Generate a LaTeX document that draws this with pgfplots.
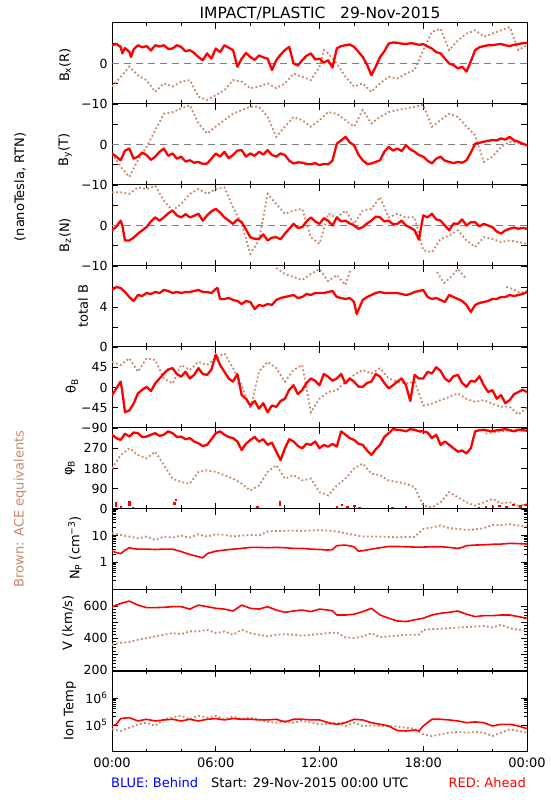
\documentclass[border=0pt]{standalone}
\usepackage{fontspec}
\setmainfont{DejaVu Sans}
\usepackage{pgfplots}
\pgfplotsset{compat=1.18}
\definecolor{acebrown}{RGB}{200,135,105}
\definecolor{aheadred}{RGB}{255,0,0}
\definecolor{behindblue}{RGB}{0,0,255}
\definecolor{zerogray}{RGB}{128,128,128}
\newcommand\fa{\fontsize{12.5}{14}\selectfont}
\newcommand\fb{\fontsize{13}{15}\selectfont}
\newcommand\ft{\fontsize{15.5}{18}\selectfont}
\pgfplotsset{
  panel/.style={scale only axis, width=415pt, height=81pt, xmin=0, xmax=24,
    anchor=north west,
    xtick={0,6,12,18,24}, minor xtick={2,4,8,10,14,16,20,22}, xticklabels={},
    tick align=inside, major tick length=6pt, minor tick length=3.5pt,
    axis line style={line width=1pt},
    every tick/.append style={line width=0.9pt, black},
    yticklabel style={font=\fa, xshift=-1pt},
    clip=true},
  redl/.style={color=aheadred, line width=2.3pt, line join=round, mark=none},
  redthin/.style={color=aheadred, line width=1.6pt, line join=round, mark=none},
  brownd/.style={color=acebrown, line width=1.8pt, dash pattern=on 1.8pt off 2.4pt, mark=none},
  zline/.style={color=zerogray, line width=1pt, dash pattern=on 7pt off 5pt},
  bpanel/.style={panel, ymin=-10, ymax=10, ytick={-10,-5,0,5}, yticklabels={−10,,0,}},
}
\begin{document}
\begin{tikzpicture}
\useasboundingbox (0,0) rectangle (550pt,800pt);
% ---------------- Bx
\begin{axis}[bpanel, at={(112pt,777pt)}]
\addplot[zline] coordinates {(0,0) (24,0)};
\addplot[brownd] coordinates {(0,-5.7)(0.5,-3.3)(1,-0.8)(1.5,-2.9)(2,-4.1)(2.5,-7.0)(3,-4.9)(3.5,-5.7)(4,-4.5)(4.5,-4.1)(5,-8.2)(5.5,-9.0)(6,-7.8)(6.5,-6.6)(7,-4.1)(7.5,-4.5)(8,-6.1)(8.5,-5.7)(9,-4.9)(9.5,-6.1)(10,-4.9)(10.5,-2.5)(11,-3.3)(11.5,-4.1)(12,-0.8)(12.25,3.3)(12.5,2.5)(13,0)(13.5,-3.3)(14,-5.7)(14.5,-4.9)(15,-7.0)(15.5,-4.9)(16,-3.3)(16.5,-3.7)(17,-2.5)(17.5,-1.6)(18,3.3)(18.5,7.8)(19,8.6)(19.5,3.3)(20,5.7)(20.5,7.4)(21,8.2)(21.5,6.6)(22,7.4)(22.5,8.2)(23,9.0)(23.5,3.3)(24,4.5)};
\addplot[redl] coordinates {(0,4.5)(0.25,4.8)(0.5,4.1)(0.6,2.5)(0.75,3.8)(1,2.9)(1.1,1.6)(1.25,3.5)(1.5,4.5)(1.75,4.0)(2,4.3)(2.25,3.2)(2.5,4.5)(2.75,4.2)(3,4.5)(3.25,3.6)(3.5,3.7)(3.75,4.5)(4,4.1)(4.25,3.0)(4.5,3.3)(4.75,2.6)(5,1.6)(5.25,0.8)(5.5,2.5)(5.75,1.2)(6,3.7)(6.25,2.8)(6.5,4.5)(6.75,3.9)(7,3.3)(7.25,-0.8)(7.5,1.2)(7.75,2.6)(8,1.6)(8.25,0.9)(8.5,2.0)(8.75,1.5)(9,1.2)(9.25,-1.6)(9.5,0.8)(9.75,2.2)(10,3.3)(10.25,4.1)(10.5,0)(10.75,-0.5)(11,0.8)(11.25,1.9)(11.5,2.5)(11.75,1.0)(12,1.2)(12.25,0.2)(12.5,0.8)(12.75,-1.0)(13,3.7)(13.25,4.3)(13.5,4.5)(13.75,4.7)(14,4.1)(14.25,2.9)(14.5,1.6)(14.75,-0.3)(15,-2.9)(15.25,-0.8)(15.5,1.6)(15.75,3.0)(16,4.9)(16.25,5.2)(16.5,5.1)(16.75,4.9)(17,4.8)(17.25,5.0)(17.5,4.9)(17.75,4.6)(18,4.8)(18.25,4.2)(18.5,3.7)(18.75,2.8)(19,2.5)(19.25,1.2)(19.5,0)(19.75,-0.4)(20,-1.2)(20.25,-0.8)(20.5,-2.0)(20.75,0.5)(21,3.3)(21.25,4.0)(21.5,4.3)(21.75,4.5)(22,4.5)(22.25,4.7)(22.5,4.8)(22.75,4.5)(23,4.3)(23.25,4.6)(23.5,4.8)(23.75,5.0)(24,5.1)};
\end{axis}
% ---------------- By
\begin{axis}[bpanel, at={(112pt,696pt)}]
\addplot[zline] coordinates {(0,0) (24,0)};
\addplot[brownd] coordinates {(0,-2.2)(0.5,-5.5)(1,-8.0)(1.5,-3.9)(2,-0.6)(2.5,3.5)(3,7.6)(3.5,8.0)(4,8.9)(4.5,9.7)(5,5.2)(5.5,2.7)(6,4.4)(6.5,6.0)(7,7.6)(7.5,8.5)(8,9.3)(8.5,9.3)(9,6.8)(9.5,1.9)(10,4.4)(10.5,6.8)(11,6.0)(11.5,4.4)(12,6.0)(12.5,8.0)(13,7.6)(13.5,6.0)(14,4.4)(14.5,8.5)(15,5.2)(15.5,6.8)(16,8.0)(16.5,8.5)(17,8.9)(17.5,9.3)(18,9.8)(18.5,4.4)(19,6.0)(19.5,7.6)(20,6.8)(20.5,4.4)(21,2.3)(21.5,-4.3)(22,-3.0)(22.5,-0.6)(23,0.7)(23.5,0.3)(24,-0.2)};
\addplot[redl] coordinates {(0,-2.2)(0.25,-3.0)(0.5,-3.9)(0.75,-1.5)(1,-1.0)(1.25,-3.5)(1.5,-3.0)(1.75,-2.0)(2,-2.6)(2.25,-3.8)(2.5,-3.0)(2.75,-1.8)(3,-1.0)(3.25,-2.8)(3.5,-2.2)(3.75,-3.5)(4,-3.0)(4.25,-4.2)(4.5,-3.9)(4.75,-4.5)(5,-4.3)(5.25,-4.8)(5.5,-4.7)(5.75,-3.5)(6,-2.2)(6.25,-3.0)(6.5,-1.8)(6.75,-3.4)(7,-2.6)(7.25,-1.5)(7.5,-1.4)(7.75,-3.0)(8,-2.2)(8.25,-2.8)(8.5,-1.8)(8.75,-2.5)(9,-1.4)(9.25,-2.6)(9.5,-3.0)(9.75,-2.2)(10,-2.6)(10.25,-4.0)(10.5,-4.7)(10.75,-4.4)(11,-4.5)(11.25,-4.8)(11.5,-4.9)(11.75,-4.6)(12,-5.1)(12.25,-4.8)(12.5,-4.9)(12.75,-4.0)(13,0.2)(13.25,1.0)(13.5,1.9)(13.75,0.5)(14,-0.2)(14.25,-2.5)(14.5,-3.9)(14.75,-4.8)(15,-4.7)(15.25,-4.3)(15.5,-3.9)(15.75,-1.8)(16,-0.6)(16.25,-1.5)(16.5,-1.0)(16.75,-1.6)(17,-0.2)(17.25,-1.2)(17.5,-1.8)(17.75,-2.6)(18,-3.0)(18.25,-4.0)(18.5,-4.7)(18.75,-3.5)(19,-3.0)(19.25,-4.0)(19.5,-4.3)(19.75,-4.6)(20,-4.3)(20.25,-4.5)(20.5,-3.9)(20.75,-2.0)(21,0.2)(21.25,0.4)(21.5,0.7)(21.75,0.9)(22,1.1)(22.25,1.0)(22.5,1.5)(22.75,1.2)(23,1.9)(23.25,1.0)(23.5,0.7)(23.75,0.2)(24,-0.2)};
\end{axis}
% ---------------- Bz
\begin{axis}[bpanel, at={(112pt,615pt)}]
\addplot[zline] coordinates {(0,0) (24,0)};
\addplot[brownd] coordinates {(0,8.2)(0.5,8.2)(1,7.8)(1.5,9.4)(2,9.0)(2.5,9.8)(3,6.1)(3.5,3.7)(4,5.3)(4.5,7.8)(5,9.0)(5.5,7.8)(6,9.0)(6.5,9.4)(7,4.5)(7.5,0.4)(8,-7.0)(8.5,-3.7)(9,7.8)(9.5,5.3)(10,2.9)(10.5,3.7)(11,4.1)(11.5,-2.9)(12,-4.5)(12.5,2.9)(13,2.0)(13.5,3.7)(14,0.4)(14.5,3.7)(15,4.1)(15.5,7.0)(16,2.0)(16.5,2.9)(17,2.0)(17.5,2.0)(18,-6.1)(18.5,-6.6)(19,-3.3)(19.5,-2.5)(20,-1.2)(20.5,-3.7)(21,-5.3)(21.5,-2.9)(22,-3.3)(22.5,-4.1)(23,-3.7)(23.5,-4.1)(24,-4.5)};
\addplot[redl] coordinates {(0,-1.2)(0.25,-0.3)(0.5,1.2)(0.6,0.0)(0.75,-3.7)(1,-3.7)(1.25,-3.0)(1.5,-2.0)(1.75,-1.2)(2,-0.4)(2.25,1.0)(2.5,2.0)(2.75,1.2)(3,2.0)(3.25,3.0)(3.5,3.7)(3.75,2.5)(4,2.0)(4.25,2.8)(4.5,2.0)(4.75,2.4)(5,2.9)(5.25,1.2)(5.5,2.5)(5.75,3.5)(6,4.1)(6.25,3.2)(6.5,2.0)(6.75,1.2)(7,0.4)(7.25,1.5)(7.5,0.8)(7.75,-1.0)(8,-2.9)(8.25,-3.3)(8.5,-3.3)(8.75,-2.2)(9,-3.7)(9.25,-3.0)(9.5,-2.9)(9.75,-3.4)(10,-2.0)(10.25,-0.8)(10.5,0.4)(10.75,-0.6)(11,-0.4)(11.25,1.0)(11.5,2.0)(11.75,1.0)(12,0.4)(12.25,1.8)(12.5,1.2)(12.75,0.0)(13,2.0)(13.25,1.0)(13.5,1.2)(13.75,0.5)(14,0)(14.25,-0.8)(14.5,-0.4)(14.75,0.5)(15,1.2)(15.25,2.2)(15.5,2.0)(15.75,1.0)(16,1.2)(16.25,0.3)(16.5,0.4)(16.75,1.2)(17,0)(17.25,-0.5)(17.5,-1.2)(17.75,-3.5)(18,2.5)(18.25,2.0)(18.5,2.9)(18.75,1.5)(19,1.2)(19.25,0.0)(19.5,-1.2)(19.75,0.5)(20,0.4)(20.25,1.5)(20.5,0)(20.75,0.8)(21,0.8)(21.25,-0.2)(21.5,0.4)(21.75,0.0)(22,-0.4)(22.25,-1.5)(22.5,-2.0)(22.75,-1.2)(23,-0.8)(23.25,-0.5)(23.5,-0.8)(23.75,-0.6)(24,-0.8)};
\end{axis}
% ---------------- total B
\begin{axis}[panel, at={(112pt,534pt)}, ymin=0, ymax=8.1, ytick={0,2,4,6}, yticklabels={0,,4,}]
\addplot[brownd] coordinates {(9.5,7.9)(10,7.3)(10.5,7.0)(11,6.7)(11.5,7.3)(12,7.8)(12.5,6.6)(13,7.2)(13.5,6.2)(13.8,7.8)};
\addplot[brownd] coordinates {(18.8,7.5)(19.2,6.4)(19.6,7.0)(20,7.8)(20.5,6.8)};
\addplot[brownd] coordinates {(22.8,6.0)(23.2,5.8)(23.6,5.4)(24,5.6)};
\addplot[redl] coordinates {(0,5.7)(0.25,6.0)(0.5,5.9)(0.75,5.5)(1,5.0)(1.25,4.6)(1.5,5.2)(1.75,5.1)(2,5.4)(2.25,5.3)(2.5,5.5)(2.75,5.4)(3,5.7)(3.25,5.6)(3.5,5.4)(3.75,5.5)(4,5.4)(4.25,5.5)(4.5,5.5)(4.75,5.6)(5,5.7)(5.25,5.5)(5.5,5.5)(5.75,5.4)(6,5.8)(6.1,5.9)(6.25,4.8)(6.5,4.8)(6.75,4.9)(7,4.7)(7.25,4.6)(7.5,4.3)(7.75,4.6)(8,4.5)(8.25,3.8)(8.5,4.2)(8.75,4.1)(9,4.3)(9.25,4.2)(9.5,4.7)(9.75,4.9)(10,5.0)(10.25,5.1)(10.5,5.2)(10.75,4.9)(11,5.0)(11.25,5.3)(11.5,5.2)(11.75,5.4)(12,5.4)(12.25,5.4)(12.5,5.5)(12.75,5.6)(13,5.0)(13.25,4.9)(13.5,4.8)(13.75,4.9)(14,4.5)(14.15,3.3)(14.25,3.7)(14.5,4.7)(14.75,5.0)(15,5.2)(15.25,5.4)(15.5,5.5)(15.75,5.4)(16,5.4)(16.25,5.4)(16.5,5.4)(16.75,5.3)(17,5.2)(17.25,5.3)(17.5,5.5)(17.75,5.6)(18,5.7)(18.25,5.0)(18.5,4.8)(18.75,4.9)(19,4.7)(19.25,4.5)(19.5,5.2)(19.75,5.0)(20,4.8)(20.25,4.6)(20.5,4.2)(20.75,3.5)(21,4.2)(21.25,4.4)(21.5,4.5)(21.75,4.6)(22,4.8)(22.25,4.8)(22.5,5.0)(22.75,5.0)(23,5.2)(23.25,5.1)(23.5,5.2)(23.75,5.3)(24,5.5)};
\end{axis}
% ---------------- theta B
\begin{axis}[panel, at={(112pt,453pt)}, ymin=-90, ymax=90, ytick={-90,-45,0,45}, yticklabels={−90,−45,0,45}]
\addplot[brownd] coordinates {(0,57)(0.5,50)(1,65)(1.5,35)(2,65)(2.5,61)(3,20)(3.5,9)(4,50)(4.5,39)(5,57)(5.5,50)(6,65)(6.5,76)(7,43)(7.5,5)(8,-47)(8.5,35)(9,57)(9.5,43)(10,13)(10.5,39)(11,50)(11.5,-55)(12,-25)(12.5,-10)(13,-6)(13.5,13)(14,28)(14.5,39)(15,31)(15.5,43)(16,20)(16.5,13)(17,9)(17.5,13)(18,-40)(18.5,-36)(19,-28)(19.5,-21)(20,-13)(20.5,-25)(21,-32)(21.5,-28)(22,-36)(22.5,-43)(23,-43)(23.5,-60)(24,-45)};
\addplot[redl] coordinates {(0,-17)(0.25,-2)(0.5,13)(0.6,-10)(0.75,-55)(1,-51)(1.25,-36)(1.5,-13)(1.75,-5)(2,1.5)(2.25,-8)(2.5,9)(2.75,20)(3,31)(3.25,40)(3.5,43)(3.75,30)(4,24)(4.25,35)(4.5,20)(4.75,28)(5,43)(5.25,30)(5.5,28)(5.75,40)(6,73)(6.25,50)(6.5,35)(6.75,20)(7,13)(7.25,30)(7.5,-17)(7.75,-25)(8,-40)(8.25,-30)(8.5,-47)(8.75,-35)(9,-55)(9.25,-40)(9.5,-43)(9.75,-30)(10,-25)(10.25,-5)(10.5,5)(10.75,-15)(11,-6)(11.25,10)(11.5,20)(11.75,15)(12,5)(12.25,30)(12.5,24)(12.75,15)(13,20)(13.25,30)(13.5,9)(13.75,20)(14,13)(14.25,2)(14.5,1.5)(14.75,10)(15,13)(15.25,30)(15.5,24)(15.75,10)(16,-2)(16.25,5)(16.5,13)(16.75,20)(17,5)(17.25,-30)(17.5,28)(17.75,20)(18,20)(18.25,35)(18.5,31)(18.75,45)(19,37)(19.25,20)(19.5,13)(19.75,25)(20,28)(20.25,10)(20.5,1.5)(20.75,15)(21,13)(21.25,25)(21.5,5)(21.75,-10)(22,-6)(22.25,-25)(22.5,-17)(22.75,-35)(23,-28)(23.25,-15)(23.5,-10)(23.75,-5)(24,-10)};
\end{axis}
% ---------------- phi B
\begin{axis}[panel, at={(112pt,372pt)}, ymin=0, ymax=360, ytick={0,90,180,270}, yticklabels={0,90,180,270}]
\addplot[brownd] coordinates {(0,180)(0.5,240)(1,270)(1.5,240)(2,225)(2.5,255)(3,195)(3.5,135)(4,120)(4.5,112)(5,165)(5.5,172)(6,165)(6.5,150)(7,135)(7.5,112)(8,82)(8.5,105)(9,165)(9.5,195)(10,135)(10.5,150)(11,127)(11.5,135)(12,75)(12.5,60)(13,105)(13.5,135)(14,180)(14.5,202)(15,157)(15.5,150)(16,127)(16.5,120)(17,112)(17.5,97)(18,15)(18.5,7)(19,30)(19.5,75)(20,52)(20.5,30)(21,15)(21.5,30)(22,45)(22.5,25)(23,30)(23.5,15)(24,22)};
\addplot[brownd] coordinates {(21.6,335)(22,340)(22.5,345)(23,350)(23.5,355)(24,352)};
\addplot[redl] coordinates {(0,330)(0.25,315)(0.5,307)(0.75,335)(1,322)(1.25,340)(1.5,337)(1.75,320)(2,322)(2.25,330)(2.5,337)(2.75,325)(3,330)(3.25,345)(3.5,337)(3.75,320)(4,322)(4.25,310)(4.5,315)(4.75,300)(5,292)(5.25,280)(5.5,285)(5.75,310)(6,337)(6.25,345)(6.5,330)(6.75,320)(7,315)(7.25,300)(7.5,262)(7.75,290)(8,307)(8.25,320)(8.5,300)(8.75,310)(9,285)(9.25,295)(9.5,255)(9.75,217)(10,270)(10.25,310)(10.5,300)(10.75,280)(11,270)(11.25,290)(11.5,285)(11.75,300)(12,270)(12.25,285)(12.5,277)(12.75,290)(13,277)(13.25,345)(13.5,330)(13.75,315)(14,307)(14.25,290)(14.5,285)(14.75,260)(15,240)(15.25,265)(15.5,285)(15.75,320)(16,337)(16.25,355)(16.5,352)(16.75,350)(17,345)(17.25,355)(17.5,352)(17.75,345)(18,345)(18.25,340)(18.5,315)(18.75,330)(19,285)(19.25,300)(19.5,285)(19.75,270)(20,255)(20.25,260)(20.5,247)(20.75,270)(21,345)(21.25,350)(21.5,352)(21.75,348)(22,345)(22.25,350)(22.5,352)(22.75,355)(23,350)(23.25,345)(23.5,352)(23.75,350)(24,348)};
\addplot[only marks, mark=square*, mark size=0.7pt, color=aheadred] coordinates {(0.2,15)(0.2,25)(0.5,8)(1.0,20)(1.0,30)(1.2,5)(3.6,25)(3.7,40)(8.4,10)(9.7,20)(9.7,30)(13.0,10)(13.3,20)(13.6,8)(14.0,15)(14.3,5)(16.2,5)(17,8)(21.2,5)(21.6,10)(22,8)(22.4,15)(22.8,10)(23.2,20)(23.6,12)(23.9,18)};
\end{axis}
% ---------------- Np
\begin{axis}[panel, at={(112pt,291pt)}, ymode=log, ymin=0.09, ymax=100, ytick={1,10}, yticklabels={1,10},
  minor ytick={0.2,0.3,0.4,0.5,0.6,0.7,0.8,0.9,2,3,4,5,6,7,8,9,20,30,40,50,60,70,80,90}]
\addplot[brownd] coordinates {(0,12.3)(0.5,10.6)(1,9.2)(1.5,7.9)(2,9.2)(2.5,6.8)(3,9.2)(3.5,8.4)(4,10)(4.5,8.4)(5,11.2)(5.5,9.2)(6,11.2)(6.5,10.6)(7,9.2)(7.5,10)(8,10.6)(8.5,10)(9,14.2)(9.5,15)(10,15)(10.5,15.5)(11,15)(11.5,15.5)(12,16)(12.5,15.5)(13,14.2)(13.5,12.3)(14,10.6)(14.5,9.2)(15,9.2)(15.5,9.2)(16,8.9)(16.5,8.6)(17,8.9)(17.5,8.9)(18,17.9)(18.5,20)(19,24)(19.5,19)(20,18)(20.5,16.4)(21,16.9)(21.5,19)(22,25)(22.5,25)(23,27)(23.5,24)(24,22)};
\addplot[redthin] coordinates {(0,2.6)(0.25,2.3)(0.5,2.1)(0.75,2.8)(1,3.5)(1.25,3.2)(1.5,3.1)(2,3.1)(2.5,3.0)(3,3.1)(3.5,3.1)(4,2.5)(4.5,1.95)(5,1.6)(5.25,1.46)(5.5,2.1)(6,2.6)(6.5,2.86)(7,3.1)(7.5,3.3)(8,3.6)(8.5,3.6)(9,3.5)(9.5,3.6)(10,3.5)(10.5,3.3)(11,3.3)(11.5,3.1)(12,3.0)(12.5,2.86)(12.75,3.0)(13,4.2)(13.5,4.4)(14,3.8)(14.25,2.6)(14.5,2.7)(15,3.1)(15.5,3.5)(16,3.9)(16.5,3.9)(17,3.8)(17.5,3.7)(18,3.7)(18.5,3.8)(19,3.8)(19.5,3.6)(20,3.3)(20.25,3.6)(20.5,4.2)(21,4.4)(21.5,4.5)(22,4.7)(22.5,4.8)(23,5.1)(23.5,5.0)(24,4.8)};
\end{axis}
% ---------------- V
\begin{axis}[panel, at={(112pt,210pt)}, ymin=195, ymax=700, ytick={200,300,400,500,600}, yticklabels={200,,400,,600}, minor y tick num=4]
\addplot[brownd] coordinates {(0,359)(0.5,370)(1,376)(1.5,390)(2,400)(2.5,411)(3,421)(3.5,431)(4,425)(4.5,442)(5,442)(5.5,452)(6,431)(6.5,442)(7,421)(7.5,452)(8,431)(8.5,421)(9,411)(9.5,421)(10,425)(10.5,421)(11,415)(11.5,421)(12,425)(12.5,431)(13,435)(13.5,405)(14,400)(14.5,411)(15,431)(15.5,405)(16,411)(16.5,415)(17,421)(17.5,421)(17.8,423)(18,452)(18.5,456)(19,458)(19.5,462)(20,466)(20.5,470)(21,472)(21.5,476)(22,466)(22.5,483)(23,462)(23.5,452)(24,452)};
\addplot[redthin] coordinates {(0,596)(0.5,616)(1,631)(1.5,606)(2,590)(2.5,590)(3,592)(3.5,596)(4,596)(4.5,581)(5,606)(5.5,596)(6,586)(6.5,581)(7,569)(7.5,606)(8,586)(8.5,581)(9,596)(9.5,575)(10,561)(10.5,569)(11,575)(11.5,565)(12,581)(12.5,575)(12.75,570)(13,544)(13.5,544)(14,549)(14.5,565)(15,586)(15.5,544)(16,524)(16.5,507)(17,503)(17.5,514)(18,524)(18.5,544)(19,555)(19.5,561)(20,569)(20.5,549)(21,534)(21.5,540)(22,540)(22.5,544)(23,544)(23.5,534)(24,524)};
\end{axis}
% ---------------- Ion Temp
\begin{axis}[panel, at={(112pt,129pt)}, ymode=log, ymin=1e4, ymax=1e7, ytick={1e5,1e6}, yticklabels={10\textsuperscript{5},10\textsuperscript{6}},
  xticklabels={00:00,06:00,12:00,18:00,00:00}, xticklabel style={font=\fb, yshift=-2pt}]
\addplot[brownd] coordinates {(0,0.69e5)(0.5,0.60e5)(1,0.79e5)(1.5,1.06e5)(2,1.22e5)(2.5,0.92e5)(3,1.63e5)(3.5,1.88e5)(4,2.18e5)(4.5,1.63e5)(5,2.18e5)(5.5,1.88e5)(6,2.18e5)(6.5,1.63e5)(7,2.05e5)(7.5,1.63e5)(8,1.88e5)(8.5,1.63e5)(9,1.30e5)(9.5,1.22e5)(10,1.41e5)(10.5,1.22e5)(11,1.41e5)(11.5,1.22e5)(12,1.06e5)(12.5,1.06e5)(13,1.22e5)(13.5,0.92e5)(14,1.22e5)(14.5,0.92e5)(15,0.97e5)(15.5,0.92e5)(16,0.92e5)(16.5,0.87e5)(17,0.79e5)(17.5,0.73e5)(18,0.45e5)(18.5,0.39e5)(19,0.45e5)(19.5,0.52e5)(20,0.55e5)(20.5,0.52e5)(21,0.55e5)(21.5,0.52e5)(22,0.39e5)(22.5,0.52e5)(23,0.69e5)(23.5,0.60e5)(24,0.52e5)};
\addplot[redthin] coordinates {(0,0.92e5)(0.25,1.06e5)(0.5,1.73e5)(1,1.88e5)(1.5,1.41e5)(2,1.63e5)(2.5,1.41e5)(3,1.54e5)(3.5,1.63e5)(4,1.41e5)(4.5,1.63e5)(5,1.41e5)(5.5,1.63e5)(6,1.73e5)(6.5,1.54e5)(7,1.73e5)(7.5,1.63e5)(8,1.63e5)(8.5,1.54e5)(9,1.54e5)(9.5,1.63e5)(10,1.30e5)(10.5,1.63e5)(11,1.63e5)(11.5,1.54e5)(12,1.54e5)(12.5,1.22e5)(13,1.06e5)(13.5,1.22e5)(14,1.63e5)(14.5,1.54e5)(15,1.22e5)(15.5,1.06e5)(16,0.92e5)(16.5,0.62e5)(17,0.60e5)(17.5,0.65e5)(17.75,0.60e5)(18,0.92e5)(18.5,1.63e5)(19,1.63e5)(19.5,1.54e5)(20,1.41e5)(20.5,1.22e5)(21,1.30e5)(21.5,1.22e5)(22,0.92e5)(22.5,1.06e5)(23,1.06e5)(23.5,0.92e5)(24,0.73e5)};
\end{axis}
% ---------------- labels
\node[font=\ft] at (320pt,787pt) {IMPACT/PLASTIC\ \ \ 29-Nov-2015};
\node[font=\fb, rotate=90] at (20pt,613pt) {(nanoTesla, RTN)};
\node[font=\fb, rotate=90, text=acebrown] at (20pt,291pt) {Brown: ACE equivalents};
\node[font=\fb, rotate=90] at (65pt,735pt) {B\textsubscript{x}(R)};
\node[font=\fb, rotate=90] at (65pt,650pt) {B\textsubscript{y}(T)};
\node[font=\fb, rotate=90] at (65pt,565pt) {B\textsubscript{z}(N)};
\node[font=\fb, rotate=90] at (83pt,494pt) {total B};
\node[font=\fb, rotate=90] at (72pt,414pt) {θ\textsubscript{B}};
\node[font=\fb, rotate=90] at (70pt,332pt) {φ\textsubscript{B}};
\node[font=\fb, rotate=90] at (75pt,252pt) {N\textsubscript{P} (cm\textsuperscript{−3})};
\node[font=\fb, rotate=90] at (68pt,177pt) {V (km/s)};
\node[font=\fb, rotate=90] at (70pt,89pt) {Ion Temp};
\node[font=\fb, anchor=west, inner sep=0pt, text=behindblue] at (111pt,17pt) {BLUE: Behind};
\node[font=\fb, anchor=west, inner sep=0pt] at (211pt,17pt) {Start: 29-Nov-2015 00:00 UTC};
\node[font=\fb, anchor=east, inner sep=0pt, text=aheadred] at (526pt,17pt) {RED: Ahead};
\end{tikzpicture}
\end{document}
